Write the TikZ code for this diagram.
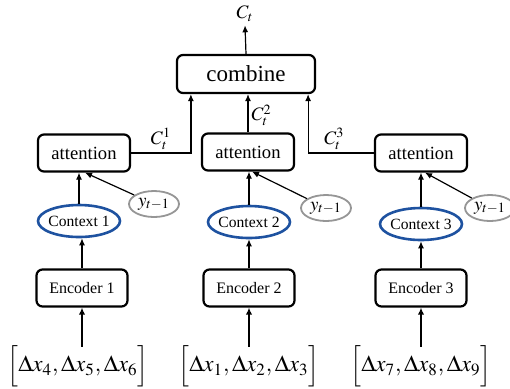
\documentclass[tikz,border=0pt]{standalone}
\usepackage{amsmath,amssymb}
\usepackage{mathptmx}
\usepackage{fontspec}
\setmainfont{Liberation Serif}
\usetikzlibrary{arrows.meta,shapes.geometric}
\definecolor{ctxblue}{RGB}{30,82,160}
\definecolor{ygray}{RGB}{150,150,150}

\begin{document}
\begin{tikzpicture}[x=0.5pt,y=-0.5pt,
  box/.style={draw,line width=1.1pt,rounded corners=3pt,inner sep=0pt,
    minimum width=46pt,minimum height=18.5pt},
  ctx/.style={draw=ctxblue,ellipse,line width=1.3pt,inner xsep=-1.5pt,inner ysep=0pt,
    minimum width=41pt,minimum height=16pt,font=\fontsize{7.8}{9}\selectfont},
  yin/.style={draw=ygray,ellipse,line width=0.9pt,inner sep=0pt,
    minimum width=25pt,minimum height=13pt,font=\fontsize{9.5}{10}\selectfont},
  arr/.style={-{Latex[length=3.5pt,width=3pt]},line width=0.6pt},
  thickarr/.style={-{Latex[length=3.5pt,width=3.2pt]},line width=1.4pt},
  lbl/.style={inner sep=1.5pt,font=\fontsize{9.5}{10}\selectfont}]
\useasboundingbox (0,0) rectangle (510,388);

% top
\node[box,minimum width=69pt,minimum height=19pt,font=\fontsize{11.5}{12}\selectfont] (cmb) at (246,74) {combine};
\node[lbl] (ct) at (245,14) {$C_t$};
\draw[arr] (cmb.north) -- (ct.south);

% attention
\node[box,font=\fontsize{9.3}{10}\selectfont] (att1) at (84,153) {attention};
\node[box,font=\fontsize{9.3}{10}\selectfont] (att2) at (248,152) {attention};
\node[box,font=\fontsize{9.3}{10}\selectfont] (att3) at (421,153) {attention};
\draw[arr] (att1.east) -| node[lbl,above,pos=0.25] {$C_t^1$} ([xshift=7.5pt]cmb.south west);
\draw[arr] (att2.north) -- node[lbl,right,pos=0.45] {$C_t^2$} (att2.north |- cmb.south);
\draw[arr] (att3.west) -| node[lbl,above,pos=0.3] {$C_t^3$} ([xshift=-4pt]cmb.south east);

% contexts
\node[ctx] (ctx1) at (79,221) {Context 1};
\node[ctx] (ctx2) at (249,222) {Context 2};
\node[ctx] (ctx3) at (421,224) {Context 3};
\node[yin] (y1) at (154,204) {$y_{t-1}$};
\node[yin] (y2) at (326,208) {$y_{t-1}$};
\node[yin] (y3) at (490,208) {$y_{t-1}$};
\draw[arr] (ctx1.north) -- (ctx1.north |- att1.south);
\draw[arr] (ctx2.north) -- (ctx2.north |- att2.south);
\draw[arr] (ctx3.north) -- (ctx3.north |- att3.south);
\draw[arr] (y1) -- ([xshift=0.5pt]att1.south);
\draw[arr] (y2) -- ([xshift=2pt]att2.south);
\draw[arr] (y3) -- ([xshift=2pt]att3.south);

% encoders
\node[box,minimum width=45.5pt,font=\fontsize{8}{9}\selectfont] (enc1) at (82,288) {Encoder 1};
\node[box,minimum width=45.5pt,font=\fontsize{8}{9}\selectfont] (enc2) at (249,288) {Encoder 2};
\node[box,minimum width=45.5pt,font=\fontsize{8}{9}\selectfont] (enc3) at (421,288) {Encoder 3};
\draw[arr] (enc1.north) -- (enc1.north |- ctx1.south);
\draw[arr] (enc2.north) -- (enc2.north |- ctx2.south);
\draw[arr] (enc3.north) -- (enc3.north |- ctx3.south);

% inputs
\node[inner sep=1pt,font=\fontsize{11.5}{12}\selectfont] (in1) at (78,366) {$\Bigl[\Delta x_4,\Delta x_5,\Delta x_6\Bigr]$};
\node[inner sep=1pt,font=\fontsize{11.5}{12}\selectfont] (in2) at (249,366) {$\Bigl[\Delta x_1,\Delta x_2,\Delta x_3\Bigr]$};
\node[inner sep=1pt,font=\fontsize{11.5}{12}\selectfont] (in3) at (421,366) {$\Bigl[\Delta x_7,\Delta x_8,\Delta x_9\Bigr]$};
\draw[thickarr] ([yshift=-2pt]in1.north -| enc1.south) -- (enc1.south);
\draw[thickarr] ([yshift=-2pt]in2.north -| enc2.south) -- (enc2.south);
\draw[thickarr] ([yshift=-2pt]in3.north -| enc3.south) -- (enc3.south);

\end{tikzpicture}
\end{document}
